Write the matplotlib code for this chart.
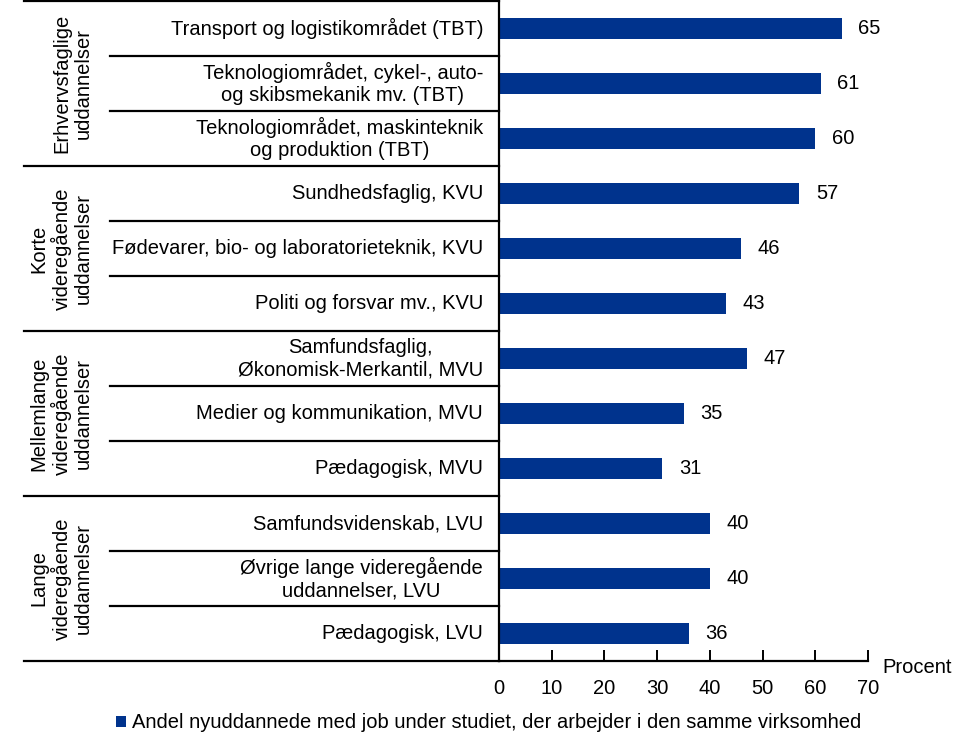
import matplotlib
matplotlib.use("Agg")
import matplotlib.pyplot as plt
from matplotlib.transforms import blended_transform_factory

plt.rcParams['font.family'] = ['Liberation Sans', 'DejaVu Sans']

# data, top to bottom
labels = [
    "Transport og logistikområdet (TBT)",
    "Teknologiområdet, cykel-, auto-\nog skibsmekanik mv. (TBT)",
    "Teknologiområdet, maskinteknik\nog produktion (TBT)",
    "Sundhedsfaglig, KVU",
    "Fødevarer, bio- og laboratorieteknik, KVU",
    "Politi og forsvar mv., KVU",
    "Samfundsfaglig,\nØkonomisk-Merkantil, MVU",
    "Medier og kommunikation, MVU",
    "Pædagogisk, MVU",
    "Samfundsvidenskab, LVU",
    "Øvrige lange videregående\nuddannelser, LVU",
    "Pædagogisk, LVU",
]
values = [65, 61, 60, 57, 46, 43, 47, 35, 31, 40, 40, 36]
groups = [
    "Erhvervsfaglige\nuddannelser",
    "Korte\nvideregående\nuddannelser",
    "Mellemlange\nvideregående\nuddannelser",
    "Lange\nvideregående\nuddannelser",
]
group_sizes = [3, 3, 3, 3]
xticks = [0, 10, 20, 30, 40, 50, 60, 70]
legend_label = "Andel nyuddannede med job under studiet, der arbejder i den samme virksomhed"

bar_color = "#00338D"
fs = 14.5

W, H = 964, 755
fig = plt.figure(figsize=(W / 100, H / 100), dpi=100)
x0, x1 = 499, 868
ytop, ybot = 1, 661
ax = fig.add_axes([x0 / W, (H - ybot) / H, (x1 - x0) / W, (ybot - ytop) / H])

n = len(values)
ypos = [i + 0.5 for i in range(n)]
ax.barh(ypos, values, height=0.38, color=bar_color, label=legend_label)
ax.set_ylim(n, 0)
ax.set_xlim(0, 70)

for y, v in zip(ypos, values):
    ax.text(v + 3.1, y, str(v), ha="left", va="center", fontsize=fs)

for s in ["top", "right"]:
    ax.spines[s].set_visible(False)
ax.spines["left"].set_linewidth(1.6)
ax.spines["bottom"].set_linewidth(1.6)
ax.set_yticks([])
ax.set_xticks(xticks)
ax.tick_params(axis="x", direction="in", length=8, width=1.4, labelsize=fs, pad=13)

ax.text(1.04, -0.01, "Procent", transform=ax.transAxes, ha="left", va="center", fontsize=fs)

# category labels
for y, lab in zip(ypos, labels):
    ax.text(-16 / (x1 - x0) * 70, y, lab, ha="right", va="center",
            multialignment="center", fontsize=fs, linespacing=1.2)

# separator lines in figure-x / data-y coordinates
tr = blended_transform_factory(fig.transFigure, ax.transData)
xg, xc = 24 / W, 110 / W
start = 0
ax.plot([xg, x0 / W], [0, 0], transform=tr, color="black", lw=1.6, clip_on=False)
for g, size in zip(groups, group_sizes):
    for k in range(1, size):
        ax.plot([xc, x0 / W], [start + k, start + k], transform=tr,
                color="black", lw=1.6, clip_on=False)
    end = start + size
    ax.plot([xg, x0 / W], [end, end], transform=tr, color="black", lw=1.6, clip_on=False)
    ax.text(93 / W, (start + end) / 2, g, transform=tr, rotation=90,
            ha="right", va="center", multialignment="center", fontsize=fs, linespacing=1.15)
    start = end

fig.legend(loc="center", bbox_to_anchor=(489 / W, 1 - 723 / H), frameon=False,
           fontsize=fs, handlelength=0.5, handleheight=0.5, handletextpad=0.3)

fig.savefig("out.png", dpi=100)
